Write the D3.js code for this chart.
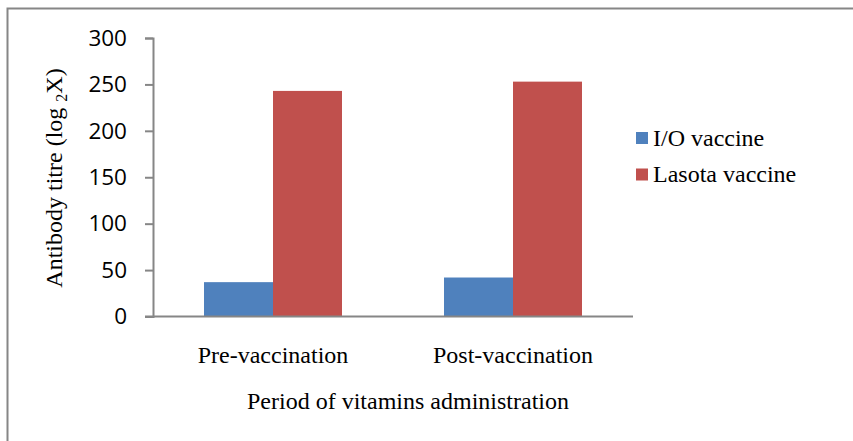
<!DOCTYPE html>
<html><head><meta charset="utf-8">
<script src="https://cdnjs.cloudflare.com/ajax/libs/d3/7.8.5/d3.min.js"></script>
<style>body{margin:0;background:#fff;} svg{display:block;}</style>
</head><body>
<svg id="c" width="853" height="441"></svg>
<script>
const categories = ["Pre-vaccination", "Post-vaccination"];
const seriesNames = ["I/O vaccine", "Lasota vaccine"];
const ioValues = [37, 42];
const lasotaValues = [243, 253];
const yTicks = [0, 50, 100, 150, 200, 250, 300];
const colors = ["#4F81BD", "#C0504D"];

const serif = "'Liberation Serif', 'Times New Roman', serif";
const fs = "24px";

const svg = d3.select("#c");
svg.append("rect").attr("x",0).attr("y",0).attr("width",853).attr("height",441).attr("fill","#fff");
// outer frame
svg.append("rect").attr("x",7.5).attr("y",8.5).attr("width",860).attr("height",460)
  .attr("fill","none").attr("stroke","#868686").attr("stroke-width",2);

const x0 = 153, x1 = 633, yb = 316.5, yt = 38;
const x = d3.scaleBand().domain(categories).range([x0, x1]).paddingInner(0.425).paddingOuter(0.2125);
const xs = d3.scaleBand().domain(seriesNames).range([0, x.bandwidth()]);
const y = d3.scaleLinear().domain([0, 300]).range([yb, yt]);

const data = categories.map((c,i)=>({cat:c, vals:[ioValues[i], lasotaValues[i]]}));

// bars
const g = svg.append("g");
data.forEach(d=>{
  d.vals.forEach((v,j)=>{
    g.append("rect")
      .attr("x", x(d.cat) + xs(seriesNames[j]))
      .attr("y", y(v))
      .attr("width", xs.bandwidth())
      .attr("height", y(0) - y(v))
      .attr("fill", colors[j]);
  });
});

// y axis
const yAxis = d3.axisLeft(y).tickValues(yTicks).tickSize(8).tickPadding(18);
const ya = svg.append("g").attr("transform",`translate(${x0},0)`).call(yAxis);
ya.select(".domain").attr("stroke","#868686").attr("stroke-width",2);
ya.selectAll(".tick line").attr("stroke","#868686").attr("stroke-width",2);
ya.selectAll(".tick text").attr("font-family","'Open Sans', sans-serif").attr("font-size","22.5px").attr("fill","#000");

// x axis line
const xa = d3.axisBottom(x).tickSize(0).tickPadding(20).tickSizeOuter(0);
const xg = svg.append("g").attr("transform",`translate(0,${yb})`).call(xa);
xg.select(".domain").attr("stroke","#868686").attr("stroke-width",2).attr("d",`M145,0H${x1}`);
xg.selectAll(".tick text").attr("font-family",serif).attr("font-size",fs).attr("fill","#000")
  .attr("dy","0").attr("y", 46);

// x title
svg.append("text").attr("x",408).attr("y",409).attr("text-anchor","middle")
  .attr("font-family",serif).attr("font-size",fs).attr("fill","#000")
  .text("Period of vitamins administration");

// y title
const yt2 = svg.append("text").attr("transform","translate(62,178) rotate(-90)").attr("text-anchor","middle")
  .attr("font-family",serif).attr("font-size",fs).attr("fill","#000");
yt2.append("tspan").text("Antibody titre (log ");
yt2.append("tspan").attr("font-size","16px").attr("dy","5").text("2");
yt2.append("tspan").attr("dy","-5").text("X)");

// legend
const lg = svg.append("g");
seriesNames.forEach((s,i)=>{
  const ly = 132 + i*36.5;
  lg.append("rect").attr("x",636).attr("y",ly).attr("width",12).attr("height",12).attr("fill",colors[i]);
  lg.append("text").attr("x",653).attr("y",ly+13.5)
    .attr("font-family",serif).attr("font-size",fs).attr("fill","#000").text(s);
});
</script>
</body></html>
